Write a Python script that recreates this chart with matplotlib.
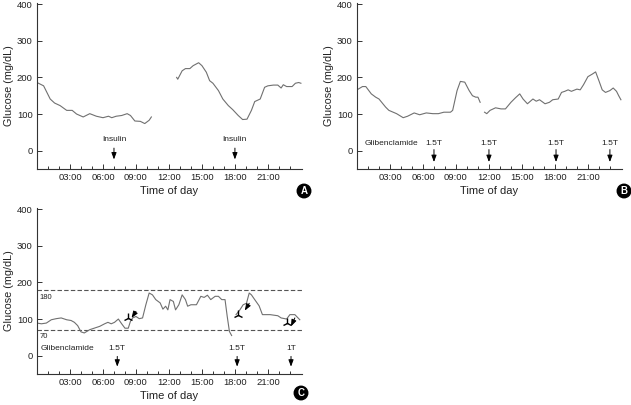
import matplotlib.pyplot as plt
import numpy as np

# panel A: two CGM segments (hours, mg/dL)
a1_hours = [0.0, 0.6, 1.2, 1.6, 2.1, 2.7, 3.2, 3.6, 4.2, 4.8, 5.4, 6.0, 6.5, 6.8, 7.2, 7.7,
            8.2, 8.5, 8.9, 9.4, 9.8, 10.2, 10.4]
a1_gluc = [186, 177, 141, 130, 123, 110, 110, 100, 92, 101, 94, 90, 94, 90, 94, 96,
           101, 96, 81, 80, 74, 83, 92]
a2_hours = [12.7, 12.8, 13.2, 13.5, 13.9, 14.2, 14.7, 15.0, 15.4, 15.7, 16.0, 16.5, 16.9,
            17.4, 17.8, 18.3, 18.7, 19.1, 19.5, 19.8, 20.3, 20.7, 21.0, 21.5, 21.9, 22.2,
            22.4, 22.7, 23.2, 23.5, 23.8, 24.0]
a2_gluc = [200, 195, 218, 224, 224, 232, 240, 232, 214, 191, 184, 164, 141,
           123, 112, 96, 85, 86, 110, 134, 141, 173, 177, 179, 179, 171,
           180, 175, 175, 184, 186, 184]
a_dose_hours = [7.0, 18.0]
a_dose_labels = ["Insulin", "Insulin"]

# panel B
b1_hours = [0.0, 0.5, 0.8, 1.3, 1.7, 2.0, 2.6, 2.9, 3.6, 4.2, 4.6, 5.2, 5.7, 6.3, 6.9, 7.4,
            7.9, 8.5, 8.7, 9.1, 9.4, 9.8, 10.2, 10.5, 10.8, 11.0, 11.2]
b1_gluc = [166, 175, 175, 155, 146, 141, 119, 110, 101, 90, 94, 103, 98, 103, 101, 101,
           105, 105, 110, 164, 189, 187, 164, 150, 146, 146, 132]
b2_hours = [11.6, 11.8, 12.1, 12.6, 13.1, 13.5, 14.0, 14.4, 14.8, 15.1, 15.5, 16.0, 16.3,
            16.6, 17.1, 17.5, 17.8, 18.3, 18.6, 18.9, 19.2, 19.5, 20.0, 20.3, 20.6, 21.0,
            21.4, 21.7, 22.0, 22.3, 22.6, 23.0, 23.3, 23.6, 23.8, 24.0]
b2_gluc = [105, 101, 110, 117, 114, 114, 132, 144, 155, 141, 128, 141, 135,
           139, 128, 132, 139, 141, 159, 162, 166, 162, 168, 166, 180, 202,
           209, 215, 191, 166, 159, 164, 171, 162, 150, 139]
b_dose_hours = [7.0, 12.0, 18.1, 23.0]
b_dose_labels = ["1.5T", "1.5T", "1.5T", "1.5T"]

# panel C
c1_hours = [0.0, 0.4, 0.85, 1.3, 1.75, 2.2, 2.7, 3.1, 3.4, 3.7, 4.0, 4.3, 4.8, 5.2, 5.7,
            6.15, 6.45, 6.75, 7.05, 7.4, 7.7, 8.0, 8.3, 8.5, 8.7, 9.0, 9.3, 9.6, 9.9,
            10.2, 10.5, 10.8, 11.2, 11.45, 11.7, 11.9, 12.1, 12.4, 12.6, 12.9, 13.2,
            13.5, 13.7, 14.0, 14.5, 14.9, 15.2, 15.5, 15.8, 16.2, 16.5, 16.8, 17.1,
            17.3, 17.5, 17.7]
c1_gluc = [89, 87, 89, 98, 101, 103, 98, 96, 91, 82, 65, 62, 71, 75, 80,
           87, 91, 87, 91, 100, 87, 75, 75, 94, 103, 107, 101, 103, 139,
           171, 166, 153, 144, 127, 135, 125, 153, 148, 125, 139, 166,
           153, 135, 139, 139, 162, 159, 165, 153, 162, 162, 153, 153,
           107, 66, 55]
c2_hours = [18.1, 18.45, 18.75, 19.05, 19.3, 19.5, 19.8, 20.2, 20.5, 21.2, 21.9, 22.2,
            22.7, 23.0, 23.45, 23.9]
c2_gluc = [112, 125, 139, 143, 171, 166, 153, 136, 112, 112, 109, 103,
           100, 112, 112, 98]
c_dose_hours = [7.3, 18.2, 23.1]
c_dose_labels = ["1.5T", "1.5T", "1T"]
c_event_hours = [8.3, 18.3, 22.7]
c_event_gluc = [103, 112, 89]
c_arrow_tail = [(9.0, 121), (19.3, 143), (23.45, 103)]
c_arrow_tip = [(8.6, 103), (18.9, 123), (23.1, 80)]
target_low, target_high = 70, 180

tick_hours = [3, 6, 9, 12, 15, 18, 21]
tick_labels = ["03:00", "06:00", "09:00", "12:00", "15:00", "18:00", "21:00"]

LINE = "#707070"
AXC = "#333333"
TXT = "#222222"
plt.rcParams["font.family"] = ["Liberation Sans", "DejaVu Sans"]

ARROW = dict(arrowstyle="-|>,head_length=0.4,head_width=0.15", color="black", lw=0.7,
             shrinkA=0, shrinkB=0)


def setup_axes(ax):
    ax.set_xlim(0, 24.1)
    ax.set_ylim(-50, 403)
    for s in ["top", "right"]:
        ax.spines[s].set_visible(False)
    for s in ["left", "bottom"]:
        ax.spines[s].set_color(AXC)
        ax.spines[s].set_linewidth(0.8)
    ax.set_xticks(tick_hours)
    ax.set_xticklabels(tick_labels)
    ax.set_xticks(np.arange(1, 24), minor=True)
    ax.set_yticks([0, 100, 200, 300, 400])
    ax.tick_params(axis="both", which="major", direction="in", length=3.5, width=0.7,
                   color=AXC, labelsize=6.8, labelcolor=TXT, pad=3)
    ax.tick_params(axis="x", which="minor", direction="in", length=2.2, width=0.7, color=AXC)
    ax.set_xlabel("Time of day", fontsize=8, color=TXT, labelpad=3)
    ax.set_ylabel("Glucose (mg/dL)", fontsize=7.8, color=TXT, labelpad=2)


def dose_arrows(ax, hours, labels, text_y, top, bottom):
    for h, lab in zip(hours, labels):
        ax.text(h, text_y, lab, ha="center", va="center", fontsize=6, color=TXT)
        ax.annotate("", xy=(h, bottom), xytext=(h, top), arrowprops=ARROW)


def panel_letter(fig, x, y, letter):
    fig.text(x / 631, 1 - y / 405, letter, ha="center", va="center", color="white",
             fontsize=7, fontweight="bold",
             bbox=dict(boxstyle="circle,pad=0.18", fc="black", ec="black"))


fig = plt.figure(figsize=(6.31, 4.05), dpi=100)
axA = fig.add_axes([37 / 631, 1 - 169 / 405, 265 / 631, 166 / 405])
axB = fig.add_axes([357 / 631, 1 - 169 / 405, 265 / 631, 166 / 405])
axC = fig.add_axes([37 / 631, 1 - 374 / 405, 265 / 631, 166 / 405])

# A
setup_axes(axA)
axA.plot(a1_hours, a1_gluc, color=LINE, lw=0.8)
axA.plot(a2_hours, a2_gluc, color=LINE, lw=0.8)
dose_arrows(axA, a_dose_hours, a_dose_labels, 30, 7, -24)

# B
setup_axes(axB)
axB.plot(b1_hours, b1_gluc, color=LINE, lw=0.8)
axB.plot(b2_hours, b2_gluc, color=LINE, lw=0.8)
axB.text(3.1, 20, "Glibenclamide", ha="center", va="center", fontsize=6, color=TXT)
dose_arrows(axB, b_dose_hours, b_dose_labels, 20, 3, -31)

# C
setup_axes(axC)
axC.axhline(target_high, color="#555555", lw=0.8, dashes=(4, 2))
axC.axhline(target_low, color="#555555", lw=0.8, dashes=(4, 2))
axC.text(0.25, 160, str(target_high), ha="left", va="center", fontsize=5.5, color=TXT)
axC.text(0.25, 52, str(target_low), ha="left", va="center", fontsize=5.5, color=TXT)
axC.plot(c1_hours, c1_gluc, color=LINE, lw=0.8)
axC.plot(c2_hours, c2_gluc, color=LINE, lw=0.8)
axC.plot(c_event_hours, c_event_gluc, ls="none", marker="2", ms=7, mew=1.0, color="black")
for tail, tip in zip(c_arrow_tail, c_arrow_tip):
    axC.annotate("", xy=tip, xytext=tail, arrowprops=ARROW)
axC.text(2.8, 19, "Glibenclamide", ha="center", va="center", fontsize=6, color=TXT)
dose_arrows(axC, c_dose_hours, c_dose_labels, 19, -2, -30)

panel_letter(fig, 304, 191, "A")
panel_letter(fig, 624, 191, "B")
panel_letter(fig, 301, 393, "C")

fig.savefig("out.png", dpi=100)
